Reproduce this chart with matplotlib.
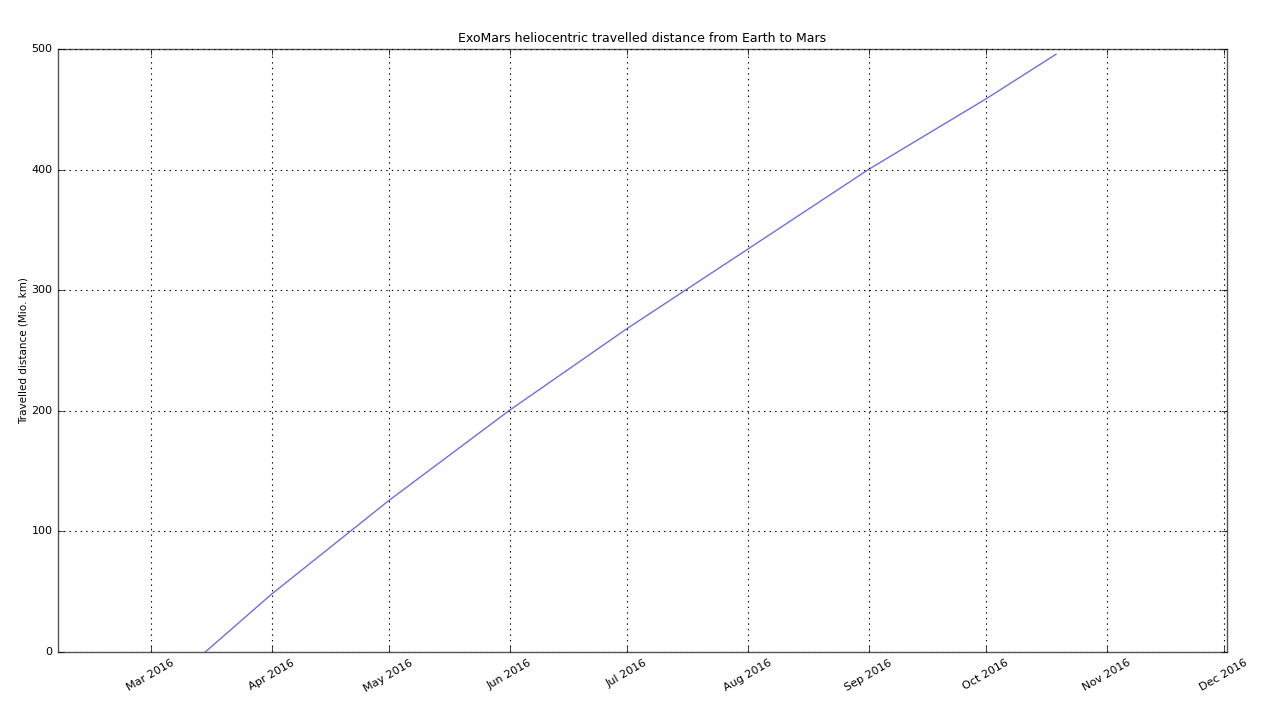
import pandas as pd
import matplotlib
matplotlib.use("Agg")
import matplotlib.pyplot as plt
import matplotlib.dates as mdates

# travelled distance (Mio. km)
dates = ["2016-03-15", "2016-04-01", "2016-05-01", "2016-06-01", "2016-07-01",
         "2016-08-01", "2016-09-01", "2016-10-01", "2016-10-19"]
distance = [0, 48, 125.5, 200.5, 268, 334, 400.2, 458.5, 495.6]

df = pd.DataFrame({'date': pd.to_datetime(dates), 'distance': distance})

plt.style.use('classic')
fig = plt.figure(figsize=(12.8, 7.12), dpi=100, facecolor='white')
ax = fig.add_axes([58/1280, 1 - 652/712, (1227-58)/1280, (652-49)/712])

ax.plot(df['date'], df['distance'], color='#6f6fe0', linewidth=1.0)

ax.set_xlim(pd.Timestamp("2016-02-06 06:00"), pd.Timestamp("2016-12-01 20:00"))
ax.set_ylim(0, 500)
ax.set_yticks([0, 100, 200, 300, 400, 500])
ax.xaxis.set_major_locator(mdates.MonthLocator(bymonth=range(3, 13)))
ax.xaxis.set_major_formatter(mdates.DateFormatter('%b %Y'))
ax.grid(True, linestyle=':', color='black', linewidth=0.8)

for lab in ax.get_xticklabels():
    lab.set_rotation(30)
    lab.set_fontsize(8)
    lab.set_ha('center')
for lab in ax.get_yticklabels():
    lab.set_fontsize(8)

for s in ax.spines.values():
    s.set_color('#555555')

ax.set_title("ExoMars heliocentric travelled distance from Earth to Mars", fontsize=9)
ax.set_ylabel("Travelled distance (Mio. km)", fontsize=7.5, labelpad=2)

fig.savefig("out.png", dpi=100, facecolor='white')
